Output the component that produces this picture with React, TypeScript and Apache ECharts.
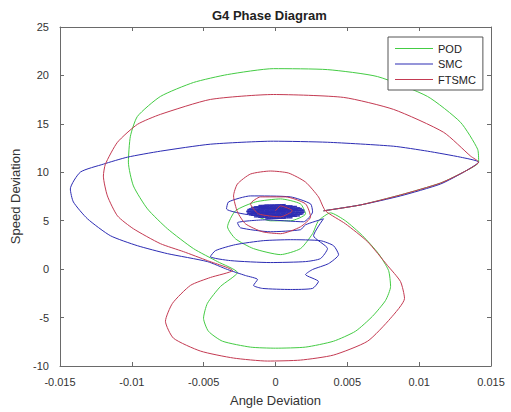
import React, { useEffect, useRef } from "react";
import * as echarts from "echarts";

// Angle deviation values are stored in thousandths (x 1e-3); speed deviation in its own units.
const legendNames = ["POD", "SMC", "FTSMC"];
const xTicks = { min: -15, max: 15, step: 5 };
const yTicks = { min: -10, max: 25, step: 5 };

const podPoints: number[][] = [
  [3.34, 6.02], [5.92, 6.63], [8.7, 7.66], [11.49, 8.89], [13.23, 10.13], [14.14, 11.05],
  [14.07, 12.38], [12.88, 15.16], [10.58, 17.83], [7.1, 19.88], [3.62, 20.6], [-0.14, 20.7],
  [-3.34, 20.09], [-5.71, 19.27], [-8.01, 17.83], [-9.61, 15.77], [-10.1, 13.72], [-10.24, 11.05],
  [-9.89, 8.59], [-8.91, 6.22], [-7.52, 4.17], [-5.71, 2.12], [-4.04, 0.78], [-2.65, -0.35],
  [-3.83, -1.79], [-4.74, -3.53], [-5.01, -5.07], [-4.67, -6.41], [-3.69, -7.44], [-1.74, -8.05],
  [0, -8.16], [2.09, -8.05], [4.04, -7.44], [5.57, -6.41], [6.75, -4.87], [7.66, -3.23],
  [8.01, -1.79], [7.87, -0.14], [7.17, 1.6], [6.06, 3.45], [4.87, 4.99], [3.83, 5.81],
  [2.99, 4.99], [2.58, 3.66], [1.74, 2.12], [0.35, 1.5], [-1.53, 2.12], [-2.79, 3.14],
  [-3.34, 4.37], [-2.79, 6.02], [-1.39, 6.94], [0.35, 7.25], [1.74, 6.74], [2.09, 5.71],
  [1.04, 4.99], [-0.35, 4.99], [-1.39, 5.61], [-0.91, 6.33], [0.35, 6.33], [0.7, 5.91], [0, 5.91],
];

const smcPoints: number[][] = [
  [3.34, 6.02], [5.92, 6.63], [8.7, 7.56], [11.49, 8.79], [13.23, 10.13], [14.14, 11.05],
  [12.88, 11.56], [10.58, 12.18], [8.22, 12.69], [3.62, 13.1], [-0.14, 13.21], [-4.53, 12.9],
  [-8.01, 12.18], [-10.31, 11.56], [-11.98, 10.84], [-13.58, 10.02], [-14.28, 8.28], [-14.07, 6.94],
  [-13.09, 5.2], [-11.49, 3.45], [-9.61, 2.42], [-7.52, 1.6], [-4.74, 0.78], [-3.34, -0.04],
  [-2.09, -0.66], [-1.25, -1.07], [-1.53, -1.68], [-0.91, -1.99], [1.04, -2.1], [2.58, -1.99],
  [2.99, -1.28], [2.09, -0.56], [2.58, -0.04], [3.69, 0.57], [4.39, 1.5], [4.04, 2.42],
  [3.13, 2.94], [1.04, 3.04], [-0.84, 2.94], [-2.79, 2.53], [-4.18, 1.91], [-4.53, 1.29],
  [-3.13, 0.88], [-0.35, 0.68], [2.09, 0.78], [3.13, 1.09], [3.62, 2.12], [2.65, 3.45],
  [3.34, 5.2], [2.09, 4.58], [1.74, 4.07], [-0.35, 3.86], [-2.44, 4.27], [-2.65, 4.79],
  [-0.7, 5.09], [1.95, 4.89], [2.58, 5.91], [2.44, 6.74], [1.04, 7.46], [-1.74, 7.56],
  [-3.27, 6.94], [-3.41, 6.22], [-1.74, 5.61],
  [-0.7, 6.63], [1.18, 6.53], [-1.5, 6.43], [1.71, 6.33], [-1.85, 6.22], [1.95, 6.12],
  [-2.0, 6.02], [2.02, 5.91], [-2.0, 5.81], [1.95, 5.71], [-1.85, 5.61], [1.71, 5.5],
  [-1.5, 5.4], [1.18, 5.3], [-0.7, 5.2], [0.7, 5.25], [-1.18, 5.35], [1.5, 5.45],
  [-1.71, 5.55], [1.85, 5.66], [-1.95, 5.76], [2.0, 5.86], [-2.02, 5.96], [2.0, 6.07],
  [-1.95, 6.17], [1.85, 6.27], [-1.71, 6.38], [1.5, 6.48], [-1.18, 6.58], [0.7, 6.68],
  [-1.4, 6.4], [1.6, 6.1], [-1.7, 5.8], [1.4, 5.5], [-1.0, 5.6], [1.2, 6.3], [0, 6.0],
];

const ftsmcPoints: number[][] = [
  [3.34, 6.02], [5.92, 6.63], [8.7, 7.66], [11.49, 8.89], [13.23, 10.13], [14.14, 11.05],
  [13.58, 11.67], [11.7, 14.13], [8.22, 16.49], [4.74, 17.73], [-0.14, 18.03], [-4.53, 17.52],
  [-8.01, 15.98], [-9.61, 14.95], [-11.0, 13.1], [-11.84, 10.84], [-11.98, 9.61], [-11.7, 7.56],
  [-11.0, 5.5], [-9.89, 4.17], [-8.01, 2.63], [-6.41, 1.81], [-4.74, 0.88], [-2.99, -0.14],
  [-4.53, -0.86], [-5.92, -1.68], [-7.17, -3.53], [-7.66, -5.38], [-7.1, -7.13], [-5.22, -8.46],
  [-2.92, -9.18], [-0.56, -9.49], [1.74, -9.39], [4.04, -8.87], [6.41, -7.44], [8.01, -5.07],
  [8.98, -3.02], [8.7, -1.28], [7.8, 0.37], [6.41, 2.83], [4.87, 4.68], [3.48, 6.02],
  [2.99, 7.46], [2.09, 8.99], [0.91, 9.92], [-0.35, 10.13], [-1.74, 9.82], [-2.65, 8.79],
  [-2.92, 7.56], [-2.65, 5.91], [-2.09, 4.68], [-0.91, 3.86], [0.35, 3.66], [1.74, 4.37],
  [2.44, 5.4], [2.09, 6.74], [0.7, 7.46], [-1.04, 7.46], [-1.74, 6.74], [-1.18, 5.71],
  [0.35, 5.4], [1.18, 6.02], [0.35, 6.53], [0, 6.02],
];

const colors = { pod: "#44cc44", smc: "#2c2cb4", ftsmc: "#c43a52" };
const FONT = "'Liberation Sans', Arial, sans-serif";

export default function App() {
  const ref = useRef<HTMLDivElement>(null);
  useEffect(() => {
    if (!ref.current) return;
    const chart = echarts.init(ref.current, null, { renderer: "svg" });
    const axisLineStyle = { color: "#6a6a6a", width: 1 };
    const mkSeries = (name: string, pts: number[][], color: string) => ({
      name,
      type: "line",
      data: pts,
      showSymbol: false,
      symbol: "none",
      smooth: 0.2,
      xAxisIndex: 0,
      yAxisIndex: 0,
      lineStyle: { color, width: 1 },
      itemStyle: { color },
    });
    chart.setOption({
      animation: false,
      backgroundColor: "#ffffff",
      textStyle: { fontFamily: FONT },
      title: {
        text: "G4 Phase Diagram",
        left: 212,
        top: 9,
        padding: 0,
        textStyle: { fontSize: 13, fontWeight: "bold", color: "#222", fontFamily: FONT },
      },
      legend: {
        data: legendNames,
        orient: "vertical",
        left: 388,
        top: 37,
        padding: [6, 7, 5, 7],
        itemGap: 4.5,
        itemWidth: 38,
        itemHeight: 1.2,
        icon: "rect",
        backgroundColor: "#fff",
        borderColor: "#555",
        borderWidth: 1,
        borderRadius: 0,
        textStyle: { fontSize: 11, color: "#222", fontFamily: FONT, lineHeight: 11 },
      },
      grid: { left: 60, right: 20, top: 27, bottom: 44, containLabel: false },
      xAxis: [
        {
          type: "value",
          min: xTicks.min,
          max: xTicks.max,
          interval: xTicks.step,
          name: "Angle Deviation",
          nameLocation: "middle",
          nameGap: 28,
          nameTextStyle: { fontSize: 13, color: "#333", fontFamily: FONT },
          axisLine: { show: true, onZero: false, lineStyle: axisLineStyle },
          axisTick: { show: true, inside: true, length: 4, lineStyle: axisLineStyle },
          axisLabel: {
            fontSize: 11,
            color: "#333",
            margin: 10,
            fontFamily: FONT,
            formatter: (v: number) => String(Math.round(v) / 1000),
          },
          splitLine: { show: false },
        },
        {
          type: "value",
          position: "top",
          min: xTicks.min,
          max: xTicks.max,
          interval: xTicks.step,
          axisLine: { show: true, onZero: false, lineStyle: axisLineStyle },
          axisTick: { show: true, inside: true, length: 4, lineStyle: axisLineStyle },
          axisLabel: { show: false },
          splitLine: { show: false },
        },
      ],
      yAxis: [
        {
          type: "value",
          min: yTicks.min,
          max: yTicks.max,
          interval: yTicks.step,
          name: "Speed Deviation",
          nameLocation: "middle",
          nameGap: 34,
          nameTextStyle: { fontSize: 13, color: "#333", fontFamily: FONT },
          axisLine: { show: true, onZero: false, lineStyle: axisLineStyle },
          axisTick: { show: true, inside: true, length: 4, lineStyle: axisLineStyle },
          axisLabel: { fontSize: 11, color: "#333", margin: 11, fontFamily: FONT },
          splitLine: { show: false },
        },
        {
          type: "value",
          position: "right",
          min: yTicks.min,
          max: yTicks.max,
          interval: yTicks.step,
          axisLine: { show: true, onZero: false, lineStyle: axisLineStyle },
          axisTick: { show: true, inside: true, length: 4, lineStyle: axisLineStyle },
          axisLabel: { show: false },
          splitLine: { show: false },
        },
      ],
      series: [
        mkSeries(legendNames[0], podPoints, colors.pod),
        mkSeries(legendNames[1], smcPoints, colors.smc),
        mkSeries(legendNames[2], ftsmcPoints, colors.ftsmc),
      ],
    });
    return () => chart.dispose();
  }, []);
  return (
    <div
      ref={ref}
      style={{ position: "fixed", left: 0, top: 0, width: 511, height: 412, background: "#fff" }}
    />
  );
}
